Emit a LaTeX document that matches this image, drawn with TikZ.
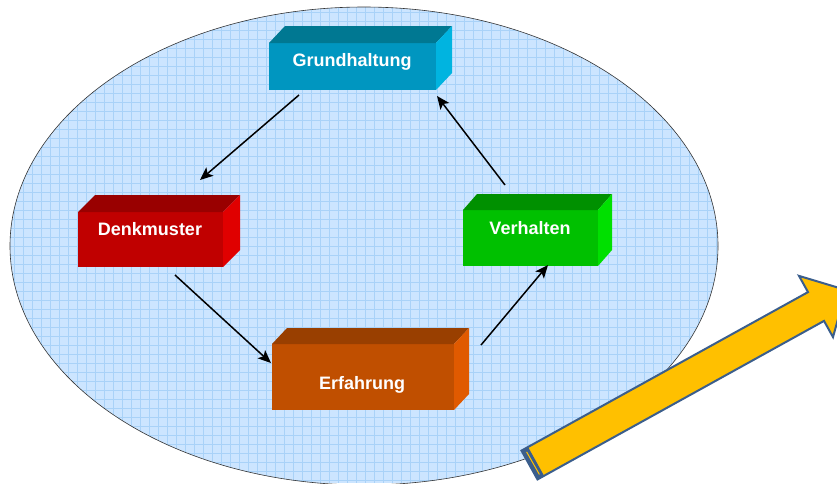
\documentclass[tikz,border=0pt]{standalone}
\usepackage{fontspec}
\setmainfont{Liberation Sans}
\usetikzlibrary{arrows.meta,calc}
\definecolor{ellfill}{HTML}{CCE5FF}
\definecolor{gridc}{HTML}{A9D2F8}
\definecolor{ghF}{HTML}{0096C0}
\definecolor{ghT}{HTML}{007892}
\definecolor{ghS}{HTML}{00B4E0}
\definecolor{dmF}{HTML}{C00000}
\definecolor{dmT}{HTML}{990000}
\definecolor{dmS}{HTML}{E00000}
\definecolor{vhF}{HTML}{00C000}
\definecolor{vhT}{HTML}{009000}
\definecolor{vhS}{HTML}{00E000}
\definecolor{efF}{HTML}{C04F00}
\definecolor{efT}{HTML}{993F00}
\definecolor{efS}{HTML}{E05A00}
\definecolor{yarrow}{HTML}{FFC000}
\definecolor{yline}{HTML}{3B5E8C}
\newcommand\boxfaces[4]{%
  \fill[#4T] (#1.north west) -- (#1.north east) -- ++(#2,#3) -- ($(#1.north west)+(#2,#3)$) -- cycle;
  \fill[#4S] (#1.north east) -- ++(#2,#3) -- ($(#1.south east)+(#2,#3)$) -- (#1.south east) -- cycle;}
\begin{document}
\begin{tikzpicture}[x=1pt,y=-1pt,
  face/.style={inner sep=0pt, outer sep=0pt, draw=none, rectangle},
  lbl/.style={text=white, font=\bfseries\fontsize{18}{18}\selectfont, inner sep=0pt},
  conn/.style={line width=1.5pt, -{Stealth[length=13pt,width=11pt,inset=3pt]}}]
\useasboundingbox (0,0) rectangle (837,483);
% ellipse with grid
\begin{scope}
  \clip (364,246) ellipse [x radius=354, y radius=239];
  \fill[ellfill] (0,0) rectangle (837,483);
  \foreach \x in {5,14,...,730} \draw[gridc, line width=0.8pt] (\x,0) -- (\x,483);
  \foreach \y in {3,12,...,483} \draw[gridc, line width=0.8pt] (0,\y) -- (837,\y);
\end{scope}
\draw[black!80, line width=0.6pt] (364,246) ellipse [x radius=354, y radius=239];
% boxes
\node[face, fill=ghF, minimum width=167pt, minimum height=47pt] (gh) at (352.5,66.5) {};
\boxfaces{gh}{16}{-17}{gh}
\node[lbl] (ghl) at (352,62) {Grundhaltung};
\node[face, fill=dmF, minimum width=145pt, minimum height=55pt] (dm) at (150.5,239.5) {};
\boxfaces{dm}{17}{-17}{dm}
\node[lbl] (dml) at (150,229) {Denkmuster};
\node[face, fill=vhF, minimum width=135pt, minimum height=56pt] (vh) at (530.5,238) {};
\boxfaces{vh}{14}{-16}{vh}
\node[lbl] (vhl) at (530,228) {Verhalten};
\node[face, fill=efF, minimum width=182pt, minimum height=66pt] (ef) at (363,377) {};
\boxfaces{ef}{15}{-16}{ef}
\node[lbl] (efl) at (362,385) {Erfahrung};
% connectors
\coordinate (a1s) at (299,95);  \coordinate (a1e) at (200,180);
\coordinate (a2s) at (175,275); \coordinate (a2e) at (271,363);
\coordinate (a3s) at (481,345); \coordinate (a3e) at (548,265);
\coordinate (a4s) at (505,185); \coordinate (a4e) at (437,96);
\draw[conn] (a1s) -- (a1e);
\draw[conn] (a2s) -- (a2e);
\draw[conn] (a3s) -- (a3e);
\draw[conn] (a4s) -- (a4e);
% yellow block arrow
\begin{scope}
  \clip (0,0) rectangle (837,483);
  \filldraw[fill=yarrow, draw=yline, line width=2pt, line join=miter]
    (521.5,450.6) -- (808,292.1) -- (799,275.9) -- (846,290) -- (833,337.1) -- (824,320.9) -- (537.5,479.4) -- cycle;
  \filldraw[fill=yline, draw=yline, line width=1pt] (521.5,450.6) -- (527.6,447.2) -- (543.6,476.0) -- (537.5,479.4) -- cycle;
  \draw[yarrow, line width=1pt] (526.6,451.9) -- (539.4,474.4);
\end{scope}
\end{tikzpicture}
\end{document}
